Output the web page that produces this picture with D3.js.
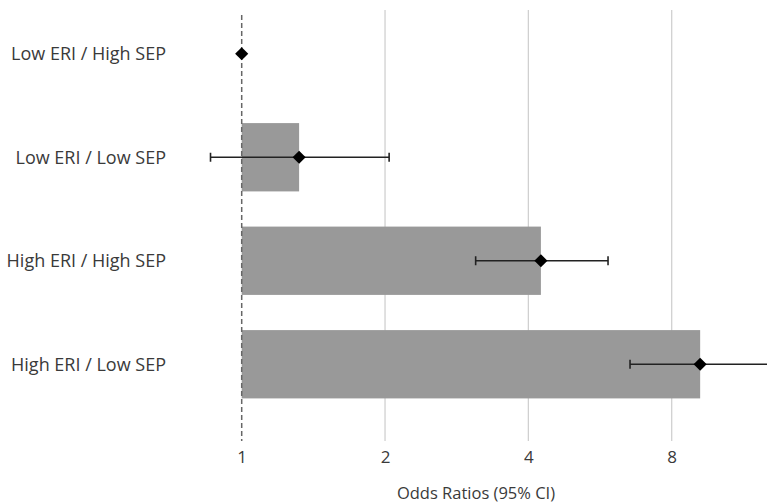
<!DOCTYPE html>
<html>
<head>
<meta charset="utf-8">
<script src="https://cdn.jsdelivr.net/npm/d3@7"></script>
<style>
  body { margin: 0; background: #fff; }
  text { font-family: "Open Sans", sans-serif; fill: #3a3a3a; }
</style>
</head>
<body>
<div id="chart"></div>
<script>
// groups, top to bottom
var groups = ["Low ERI / High SEP", "Low ERI / Low SEP", "High ERI / High SEP", "High ERI / Low SEP"];
// odds ratios and 95% CI
var oddsRatio = [1, 1.32, 4.25, 9.18];
var ciLow = [null, 0.86, 3.10, 6.54];
var ciHigh = [null, 2.04, 5.88, 13.5];
var tickValues = [1, 2, 4, 8];

var width = 767, height = 504;

var svg = d3.select("#chart")
  .append("svg")
  .attr("width", width)
  .attr("height", height);

var x = d3.scaleLog()
  .base(2)
  .domain([1, 8])
  .range([241.7, 671.7]);

var y = d3.scaleBand()
  .domain(groups)
  .range([2, 416])
  .paddingInner(0.34)
  .paddingOuter(0.17);

var gridTop = 10, gridBottom = 441;

// vertical gridlines (not at 1, that one is dashed)
svg.selectAll(".grid")
  .data(tickValues.filter(function(d){ return d !== 1; }))
  .enter().append("line")
  .attr("class", "grid")
  .attr("x1", function(d){ return x(d); })
  .attr("x2", function(d){ return x(d); })
  .attr("y1", gridTop)
  .attr("y2", gridBottom)
  .attr("stroke", "#d0d0d0")
  .attr("stroke-width", 1.3);

var rows = groups.map(function(g, i){
  return { name: g, or: oddsRatio[i], lo: ciLow[i], hi: ciHigh[i] };
});

// bars from 1 to odds ratio
svg.selectAll(".bar")
  .data(rows.filter(function(d){ return d.or > 1; }))
  .enter().append("rect")
  .attr("class", "bar")
  .attr("x", x(1))
  .attr("y", function(d){ return y(d.name); })
  .attr("width", function(d){ return x(d.or) - x(1); })
  .attr("height", y.bandwidth())
  .attr("fill", "#999999");

// reference line at 1
svg.append("line")
  .attr("x1", x(1))
  .attr("x2", x(1))
  .attr("y1", 15)
  .attr("y2", gridBottom)
  .attr("stroke", "#666")
  .attr("stroke-width", 1.5)
  .attr("stroke-dasharray", "5,3");

// error bars
var eb = rows.filter(function(d){ return d.lo !== null; });
var cy = function(d){ return y(d.name) + y.bandwidth() / 2; };

svg.selectAll(".ci")
  .data(eb)
  .enter().append("line")
  .attr("class", "ci")
  .attr("x1", function(d){ return x(d.lo); })
  .attr("x2", function(d){ return Math.min(x(d.hi), width); })
  .attr("y1", cy)
  .attr("y2", cy)
  .attr("stroke", "#222")
  .attr("stroke-width", 1.6);

var caps = [];
eb.forEach(function(d){
  caps.push({ name: d.name, v: d.lo });
  if (x(d.hi) < width) caps.push({ name: d.name, v: d.hi });
});
svg.selectAll(".cap")
  .data(caps)
  .enter().append("line")
  .attr("class", "cap")
  .attr("x1", function(d){ return x(d.v); })
  .attr("x2", function(d){ return x(d.v); })
  .attr("y1", function(d){ return cy(d) - 4.5; })
  .attr("y2", function(d){ return cy(d) + 4.5; })
  .attr("stroke", "#222")
  .attr("stroke-width", 1.6);

// diamonds
svg.selectAll(".pt")
  .data(rows)
  .enter().append("path")
  .attr("class", "pt")
  .attr("d", d3.symbol().type(d3.symbolDiamond2).size(110))
  .attr("transform", function(d){ return "translate(" + x(d.or) + "," + cy(d) + ")"; })
  .attr("fill", "#000");

// category labels
svg.selectAll(".lbl")
  .data(rows)
  .enter().append("text")
  .attr("class", "lbl")
  .attr("x", 166)
  .attr("y", cy)
  .attr("dy", "0.36em")
  .attr("text-anchor", "end")
  .style("font-size", "18px")
  .text(function(d){ return d.name; });

// x axis labels
var xAxis = d3.axisBottom(x)
  .tickValues(tickValues)
  .tickFormat(d3.format("d"))
  .tickSize(0)
  .tickPadding(0);

var ax = svg.append("g")
  .attr("transform", "translate(0," + 451 + ")")
  .call(xAxis);
ax.select(".domain").remove();
ax.selectAll("text")
  .style("font-size", "17px")
  .style("font-family", "'Open Sans', sans-serif")
  .attr("fill", "#3a3a3a");

svg.append("text")
  .attr("x", 476)
  .attr("y", 493)
  .attr("dy", "0.35em")
  .attr("text-anchor", "middle")
  .style("font-size", "16.5px")
  .text("Odds Ratios (95% CI)");
</script>
</body>
</html>
